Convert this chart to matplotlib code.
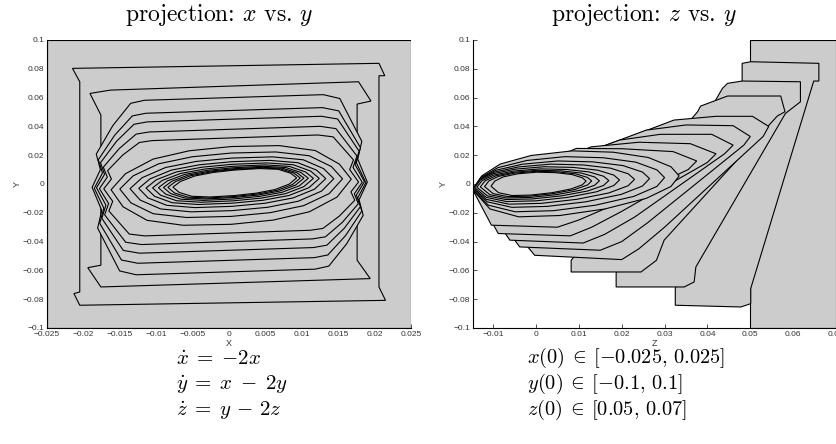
import matplotlib
matplotlib.use("Agg")
import matplotlib.pyplot as plt
from matplotlib.patches import Polygon

plt.rcParams["mathtext.fontset"] = "cm"
plt.rcParams["font.family"] = ["Liberation Sans", "DejaVu Sans"]

GRAY = "#cccccc"

# -- projection x vs y --
XY_XTICKS = [-0.025, -0.02, -0.015, -0.01, -0.005, 0, 0.005, 0.01, 0.015, 0.02, 0.025]
XY_XTICKLABELS = ["\u22120.025", "\u22120.02", "\u22120.015", "\u22120.01", "\u22120.005", "0",
                  "0.005", "0.01", "0.015", "0.02", "0.025"]
Y_TICKS = [-0.1, -0.08, -0.06, -0.04, -0.02, 0, 0.02, 0.04, 0.06, 0.08, 0.1]
Y_TICKLABELS = ["\u22120.1", "\u22120.08", "\u22120.06", "\u22120.04", "\u22120.02", "0",
                "0.02", "0.04", "0.06", "0.08", "0.1"]

# outer sets, read vertex by vertex (x, y)
XY_BOX = [(-0.025, -0.1), (0.025, -0.1), (0.025, 0.1), (-0.025, 0.1)]
XY_SET2 = [(-0.0215, 0.0803), (-0.0205, 0.0710), (-0.0205, -0.0750), (-0.0213, -0.0761),
           (-0.0205, -0.0842), (0.0215, -0.0808), (0.0206, -0.0715), (0.0206, 0.0752),
           (0.0214, 0.0752), (0.0206, 0.0838)]
XY_SET3 = [(-0.0191, 0.0629), (-0.0163, 0.0652), (0.0178, 0.0710), (0.0195, 0.0576),
           (0.0176, 0.0555), (0.0176, -0.0529), (0.0194, -0.0657), (-0.0176, -0.0715),
           (-0.0194, -0.0581), (-0.0176, -0.0564), (-0.0176, 0.0479)]

# outline shapes of the inner sets, in [-1, 1] units
XY_MID_SHAPE = [(-1.00, 0.02), (-0.94, 0.22), (-0.97, 0.40), (-0.85, 0.72), (-0.72, 0.97),
                (-0.62, 1.00), (0.68, 1.00), (0.80, 0.95), (0.88, 0.70), (0.96, 0.45),
                (0.93, 0.25), (1.00, -0.02), (0.94, -0.22), (0.97, -0.40), (0.85, -0.72),
                (0.72, -0.97), (0.62, -1.00), (-0.68, -1.00), (-0.80, -0.95), (-0.88, -0.70),
                (-0.96, -0.45), (-0.93, -0.25)]
XY_CORE_SHAPE = [(-1.00, 0.00), (-0.88, 0.40), (-0.65, 0.75), (-0.35, 0.93), (0.00, 1.00),
                 (0.40, 0.98), (0.70, 0.82), (0.90, 0.45), (1.00, 0.05), (0.88, -0.40),
                 (0.65, -0.75), (0.35, -0.93), (0.00, -1.00), (-0.40, -0.98), (-0.70, -0.82),
                 (-0.90, -0.45)]

# inner sets, outermost first: left / right tip, bottom / top, shape (0 = mid, 1 = core)
XY_LEFT = [-0.0188, -0.0185, -0.0182, -0.0178, -0.0172, -0.0162, -0.0150, -0.0136,
           -0.0124, -0.0114, -0.0105, -0.0097, -0.0090, -0.0084, -0.0077]
XY_RIGHT = [0.0190, 0.0188, 0.0186, 0.0183, 0.0178, 0.0168, 0.0156, 0.0144,
            0.0133, 0.0124, 0.0116, 0.0109, 0.0103, 0.0098, 0.0093]
XY_BOTTOM = [-0.061, -0.053, -0.046, -0.040, -0.034, -0.028, -0.0225, -0.0185,
             -0.0155, -0.0133, -0.0117, -0.0104, -0.0094, -0.0087, -0.0080]
XY_TOP = [0.060, 0.051, 0.045, 0.038, 0.032, 0.026, 0.0215, 0.0180,
          0.0155, 0.0137, 0.0123, 0.0113, 0.0106, 0.0101, 0.0097]
XY_KIND = [0, 0, 0, 0, 0, 1, 1, 1, 1, 1, 1, 1, 1, 1, 1]
XY_TILT = 0.003

# -- projection z vs y --
ZY_XTICKS = [-0.01, 0, 0.01, 0.02, 0.03, 0.04, 0.05, 0.06, 0.07]
ZY_XTICKLABELS = ["\u22120.01", "0", "0.01", "0.02", "0.03", "0.04", "0.05", "0.06", "0.07"]

ZY_BOX = [(0.05, -0.1), (0.07, -0.1), (0.07, 0.1), (0.05, 0.1)]
ZY_SET2 = [(0.0481, 0.0838), (0.0501, 0.0849), (0.0660, 0.0838), (0.0660, 0.0715),
           (0.0648, 0.0715), (0.0501, -0.0726), (0.0501, -0.0831), (0.0478, -0.0854),
           (0.0325, -0.0842), (0.0325, -0.0726), (0.0481, 0.0700)]
ZY_SET3 = [(0.0435, 0.0664), (0.0447, 0.0699), (0.0481, 0.0715), (0.0617, 0.0710),
           (0.0617, 0.0571), (0.0582, 0.0490), (0.0373, -0.0576), (0.0369, -0.0680),
           (0.0346, -0.0715), (0.0187, -0.0715), (0.0187, -0.0617)]
ZY_SET4 = [(0.0377, 0.0502), (0.0384, 0.0541), (0.0447, 0.0611), (0.0571, 0.0611),
           (0.0581, 0.0502), (0.0563, 0.0472), (0.0299, -0.0390), (0.0281, -0.0530),
           (0.0245, -0.0611), (0.0082, -0.0611), (0.0082, -0.0530)]
ZY_SET5 = [(-0.0125, -0.0060), (0.0322, 0.0444), (0.0420, 0.0470), (0.0505, 0.0470),
           (0.0543, 0.0400), (0.0530, 0.0330), (0.0300, -0.0300), (0.0240, -0.0450),
           (0.0200, -0.0525), (-0.0003, -0.0495)]
ZY_SET6 = [(-0.0132, -0.0060), (0.0257, 0.0374), (0.0350, 0.0410), (0.0460, 0.0405),
           (0.0500, 0.0330), (0.0485, 0.0270), (0.0260, -0.0270), (0.0200, -0.0400),
           (0.0150, -0.0460), (-0.0038, -0.0437)]
ZY_SET7 = [(-0.0137, -0.0060), (0.0195, 0.0305), (0.0290, 0.0345), (0.0410, 0.0345),
           (0.0460, 0.0270), (0.0440, 0.0210), (0.0230, -0.0230), (0.0160, -0.0350),
           (0.0110, -0.0410), (-0.0061, -0.0390)]
ZY_SET8 = [(-0.0141, -0.0060), (0.0129, 0.0258), (0.0240, 0.0290), (0.0360, 0.0280),
           (0.0420, 0.0210), (0.0400, 0.0150), (0.0200, -0.0190), (0.0130, -0.0300),
           (0.0080, -0.0360), (-0.0088, -0.0344)]
ZY_SET9 = [(-0.0144, -0.0060), (0.0094, 0.0247), (0.0200, 0.0245), (0.0320, 0.0225),
           (0.0375, 0.0160), (0.0355, 0.0100), (0.0170, -0.0160), (0.0100, -0.0250),
           (0.0050, -0.0300), (-0.0104, -0.0286)]

# core outline in [0, 1] units of each set's bounding box
ZY_CORE_SHAPE = [(0.00, 0.40), (0.04, 0.62), (0.13, 0.80), (0.28, 0.93), (0.48, 1.00),
                 (0.68, 0.98), (0.85, 0.90), (0.96, 0.76), (1.00, 0.62), (0.96, 0.46),
                 (0.84, 0.28), (0.64, 0.12), (0.42, 0.02), (0.22, 0.00), (0.08, 0.12)]
ZY_LEFT = [-0.0146, -0.0147, -0.0147, -0.0146, -0.0143, -0.0138, -0.0130, -0.0120, -0.0105]
ZY_RIGHT = [0.0334, 0.0300, 0.0265, 0.0230, 0.0195, 0.0170, 0.0148, 0.0130, 0.0117]
ZY_BOTTOM = [-0.0228, -0.0193, -0.0162, -0.0140, -0.0122, -0.0108, -0.0097, -0.0088, -0.0080]
ZY_TOP = [0.0230, 0.0190, 0.0160, 0.0138, 0.0120, 0.0105, 0.0095, 0.0088, 0.0082]


def centred_ring(shape, left, right, bottom, top, tilt):
    xc, hw = (left + right) / 2, (right - left) / 2
    yc, hh = (top + bottom) / 2, (top - bottom) / 2
    return [(xc + u * hw, yc + v * hh + tilt * u) for u, v in shape]


def boxed_ring(shape, left, right, bottom, top):
    return [(left + u * (right - left), bottom + v * (top - bottom)) for u, v in shape]


def add_sets(ax, sets):
    for k, pts in enumerate(sets):
        ax.add_patch(Polygon(pts, closed=True, facecolor=GRAY, edgecolor="black",
                             linewidth=0.8, zorder=1 + k * 0.01))


def style_axes(ax, xlim, xticks, xticklabels, xlabel):
    ax.set_xlim(*xlim)
    ax.set_ylim(-0.1, 0.1)
    ax.set_xticks(xticks)
    ax.set_xticklabels(xticklabels)
    ax.set_yticks(Y_TICKS)
    ax.set_yticklabels(Y_TICKLABELS)
    ax.set_axisbelow(True)
    ax.tick_params(direction="in", length=3, width=0.6, labelsize=6, pad=2, colors="#333333")
    ax.set_xlabel(xlabel, fontsize=6.5, labelpad=1, color="#333333")
    ax.set_ylabel("Y", fontsize=6.5, labelpad=0.5, color="#333333")
    ax.spines["top"].set_visible(False)
    ax.spines["right"].set_visible(False)
    for side in ("left", "bottom"):
        ax.spines[side].set_linewidth(0.8)


fig = plt.figure(figsize=(8.36, 4.44), dpi=100)
ax1 = fig.add_axes([47 / 836, 116 / 444, 364 / 836, 288 / 444])
ax2 = fig.add_axes([473 / 836, 116 / 444, 363 / 836, 288 / 444])

xy_sets = [XY_BOX, XY_SET2, XY_SET3]
for i in range(len(XY_LEFT)):
    shape = XY_MID_SHAPE if XY_KIND[i] == 0 else XY_CORE_SHAPE
    xy_sets.append(centred_ring(shape, XY_LEFT[i], XY_RIGHT[i], XY_BOTTOM[i], XY_TOP[i], XY_TILT))
add_sets(ax1, xy_sets)
style_axes(ax1, (-0.025, 0.025), XY_XTICKS, XY_XTICKLABELS, "X")

zy_sets = [ZY_BOX, ZY_SET2, ZY_SET3, ZY_SET4, ZY_SET5, ZY_SET6, ZY_SET7, ZY_SET8, ZY_SET9]
for i in range(len(ZY_LEFT)):
    zy_sets.append(boxed_ring(ZY_CORE_SHAPE, ZY_LEFT[i], ZY_RIGHT[i], ZY_BOTTOM[i], ZY_TOP[i]))
add_sets(ax2, zy_sets)
style_axes(ax2, (-0.0147, 0.0696), ZY_XTICKS, ZY_XTICKLABELS, "Z")

# titles and the system under study
fig.text(219 / 836, 1 - 15 / 444, "projection: $x$ vs. $y$", family="cmr10",
         ha="center", va="center", fontsize=17)
fig.text(644 / 836, 1 - 15 / 444, "projection: $z$ vs. $y$", family="cmr10",
         ha="center", va="center", fontsize=17)

left_lines = [r"$\dot{x}\;=\;{-}2x$", r"$\dot{y}\;=\;x\;-\;2y$", r"$\dot{z}\;=\;y\,-\,2z$"]
right_lines = [r"$x(0)\:\in\:[-0.025,\,0.025]$", r"$y(0)\:\in\:[-0.1,\,0.1]$",
               r"$z(0)\:\in\:[0.05,\,0.07]$"]
for row, (lt, rt) in enumerate(zip(left_lines, right_lines)):
    y = 1 - (358 + 26 * row) / 444
    fig.text(176 / 836, y, lt, ha="left", va="center", fontsize=15)
    fig.text(527 / 836, y, rt, ha="left", va="center", fontsize=14.7)

fig.savefig("out.png", dpi=100)
